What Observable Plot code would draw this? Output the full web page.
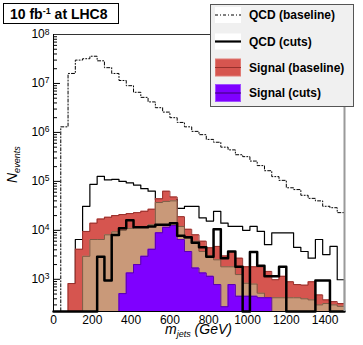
<!DOCTYPE html>
<html><head><meta charset="utf-8">
<script src="https://cdn.jsdelivr.net/npm/d3@7"></script>
<script src="https://cdn.jsdelivr.net/npm/@observablehq/plot@0.6"></script>
<style>
body{margin:0;background:#fff;}
#chart{width:363px;height:345px;}
svg text{font-family:"Liberation Sans", Arial, Helvetica, sans-serif;}
</style></head><body><div id="chart"></div>
<script>
// ---- data (events per 37.5 GeV bin, 0-1500 GeV) ----
const binWidth = 37.5;
const qcdBaseline = [0,1.3e6,1.6e7,3.0e7,3.2e7,3.6e7,2.9e7,2.1e7,1.6e7,1.15e7,9.0e6,6.6e6,5.2e6,4.2e6,3.2e6,2.6e6,2.0e6,1.6e6,1.3e6,1.05e6,9.0e5,7.2e5,6.3e5,5.0e5,4.4e5,3.5e5,3.2e5,2.6e5,2.1e5,1.65e5,1.25e5,1.05e5,7.4e4,6.8e4,5.2e4,4.5e4,4.0e4,3.1e4,2.9e4,2.3e4];
const qcdPresel = [0,0,0,6.5e3,3.1e4,8.7e4,1.26e5,1.07e5,1.1e5,1.0e5,9.3e4,8.4e4,7.1e4,6.3e4,4.3e4,4.3e4,4.3e4,2.8e4,3.1e4,3.1e4,1.8e4,1.55e4,2.45e4,1.4e4,1.2e4,1.2e4,1.0e4,1.2e4,9.5e3,5.1e3,8.9e3,8.9e3,8.9e3,4.5e3,3.7e3,2.7e3,6.5e3,3.2e3,4.7e3,980];
const qcdCuts = [0,0,0,0,0,0,2.9e3,950,8e3,1.1e4,1.6e4,1.15e4,1.15e4,1.2e4,1.3e4,1.3e4,1.4e4,7.8e3,7.2e3,5.6e3,4.5e3,2.9e3,1.05e4,2.7e3,3.7e3,1.8e3,0,3.6e3,1.9e3,1.15e3,1.15e3,1.8e3,0,0,0,0,950,950,0,0];
const signalBaseline = [0,0,820,4.1e3,9.5e3,1.4e4,1.7e4,1.85e4,2.0e4,2.1e4,2.2e4,2.3e4,2.45e4,2.7e4,4.4e4,6.3e4,4.8e4,1.9e4,1.05e4,8.1e3,6.0e3,4.4e3,4.7e3,3.0e3,3.7e3,2.7e3,1.8e3,1.8e3,1.8e3,1.45e3,980,1.15e3,890,780,760,890,480,380,350,320];
const signalPresel = [0,0,0,0,2.95e3,6.5e3,6.5e3,8.1e3,9.3e3,1.0e4,1.1e4,1.15e4,1.2e4,1.3e4,3.7e4,3.9e4,4.0e4,1.2e4,6.9e3,6.0e3,3.7e3,3.0e3,2.5e3,1.8e3,1.8e3,1.25e3,830,800,520,420,420,420,420,420,400,380,300,320,300,280];
const signalCuts = [0,0,0,0,0,0,0,0,0,510,1.35e3,2.0e3,2.95e3,4.1e3,8.9e3,1.15e4,1.25e4,6.5e3,3.7e3,1.7e3,1.35e3,1.15e3,780,275,780,450,450,450,420,420,0,0,0,0,0,0,0,0,0,0];
const xTicks = [0,200,400,600,800,1000,1200,1400];
const yMajorTicks = [1e3,1e4,1e5,1e6,1e7,1e8];
const legendLabels = ["QCD (baseline)","QCD (cuts)","Signal (baseline)","Signal (cuts)"];
const titleText = ["10 fb","-1"," at LHC8"];
const xLabel = ["m","jets"," (GeV)"];
const yLabel = ["N","events"];

// ---- layout / styles ----
const W = 363, H = 345, mL = 53, mR = 19, mT = 34, mB = 34;
const plotW = W - mL - mR;
const yMin = 220, yMax = 1e8, floorVal = 1;
const red = "#d6554f", redLine = "#96302c", tan = "#c99979", tanLine = "#7d5a45", purple = "#7f00ff", purpleLine = "#5a00b0";

const nBins = qcdBaseline.length;
const edges = d3.range(nBins + 1).map(i => i * binWidth);
function stepPoints(values) {
  const pts = [{x: edges[0], y: floorVal}];
  values.forEach((v, i) => {
    const y = v > 0 ? v : floorVal;
    pts.push({x: edges[i], y}, {x: edges[i + 1], y});
  });
  pts.push({x: edges[nBins], y: floorVal});
  return pts;
}
const yMinor = [];
for (let e = 2; e < 8; e++) for (let m = 2; m <= 9; m++) { const v = m * 10 ** e; if (v > yMin) yMinor.push(v); }

const filled = (vals, fill, stroke) => [
  Plot.areaY(stepPoints(vals), {x: "x", y1: () => floorVal, y2: "y", fill, curve: "linear"}),
  Plot.line(stepPoints(vals), {x: "x", y: "y", stroke, strokeWidth: 1, curve: "linear"})
];

const plot = Plot.plot({
  width: W, height: H, marginLeft: mL, marginRight: mR, marginTop: mT, marginBottom: mB,
  style: {fontFamily: "Liberation Sans, Arial, sans-serif", fontSize: "12px", background: "white", color: "black"},
  x: {domain: [0, 1500]},
  y: {type: "log", domain: [yMin, yMax], clamp: true},
  marks: [
    Plot.line(stepPoints(qcdBaseline), {x: "x", y: "y", stroke: "black", strokeWidth: 1, strokeDasharray: "3,2,1,2"}),
    Plot.line(stepPoints(qcdPresel), {x: "x", y: "y", stroke: "black", strokeWidth: 1.2}),
    ...filled(signalBaseline, red, redLine),
    ...filled(signalPresel, tan, tanLine),
    ...filled(signalCuts, purple, purpleLine),
    Plot.line(stepPoints(qcdCuts), {x: "x", y: "y", stroke: "black", strokeWidth: 2.5}),
    Plot.tickY(yMajorTicks, {y: d => d, insetRight: plotW - 7, stroke: "black"}),
    Plot.tickY(yMinor, {y: d => d, insetRight: plotW - 4, stroke: "black"}),
    Plot.ruleX([1500], {stroke: "#9a9a9a", strokeWidth: 2}),
    Plot.ruleY([yMax], {stroke: "#333"}),
    Plot.ruleX([0], {stroke: "black"}),
    Plot.ruleY([yMin], {stroke: "black"}),
    Plot.axisX({ticks: xTicks, tickSize: 0, tickPadding: 4, label: null, fontSize: 12, tickFormat: d => String(d)}),
    Plot.axisY({ticks: yMajorTicks, tickSize: 0, tickPadding: 4, label: null, fontSize: 12,
      tickFormat: d => "10^" + Math.round(Math.log10(d))})
  ]
});
document.getElementById("chart").appendChild(plot);

const ns = "http://www.w3.org/2000/svg";
plot.querySelectorAll('g[aria-label="y-axis tick label"] text').forEach(t => {
  const s = t.textContent;
  if (s.startsWith("10^")) {
    t.textContent = "10";
    const ts = document.createElementNS(ns, "tspan");
    ts.setAttribute("dy", "-0.45em");
    ts.setAttribute("font-size", "8.5");
    ts.textContent = s.slice(3);
    t.appendChild(ts);
  }
});

const svg = d3.select(plot);
const font = "Liberation Sans, Arial, sans-serif";

// axis titles
const xl = svg.append("text").attr("x", (mL + W - mR) / 2).attr("y", 333.5).attr("text-anchor", "middle")
  .attr("font-family", font).attr("font-style", "italic").attr("font-size", 14);
xl.append("tspan").text(xLabel[0]);
xl.append("tspan").attr("font-size", 9).attr("dy", 3).text(xLabel[1]);
xl.append("tspan").attr("dy", -3).text(xLabel[2]);

const yl = svg.append("text").attr("transform", "translate(17,183) rotate(-90)").attr("text-anchor", "start")
  .attr("font-family", font).attr("font-style", "italic").attr("font-size", 14);
yl.append("tspan").text(yLabel[0]);
yl.append("tspan").attr("font-size", 9).attr("dy", 3).text(yLabel[1]);

// title box
svg.append("rect").attr("x", 3.5).attr("y", 3.5).attr("width", 115).attr("height", 20)
  .attr("fill", "white").attr("stroke", "black");
const tt = svg.append("text").attr("x", 10).attr("y", 18.5).attr("text-anchor", "start").attr("font-family", font)
  .attr("font-weight", "bold").attr("font-size", 14);
tt.append("tspan").text(titleText[0]);
tt.append("tspan").attr("font-size", 9).attr("dy", -5).text(titleText[1]);
tt.append("tspan").attr("dy", 5).text(titleText[2]);

// legend
const lg = svg.append("g");
lg.append("rect").attr("x", 210.5).attr("y", 4.5).attr("width", 143).attr("height", 102)
  .attr("fill", "#f0f0f0").attr("stroke", "#555");
const rowY = [15, 41.5, 67.5, 93];
const sx = 215, sw = 26;
legendLabels.forEach((lab, i) => {
  const cy = rowY[i];
  if (i < 2) {
    lg.append("rect").attr("x", sx).attr("y", cy - 8).attr("width", sw).attr("height", 16).attr("fill", "white");
    lg.append("line").attr("x1", sx).attr("x2", sx + sw).attr("y1", cy).attr("y2", cy).attr("stroke", "black")
      .attr("stroke-width", i === 0 ? 1 : 2.2).attr("stroke-dasharray", i === 0 ? "3,2,1,2" : null);
  } else {
    const f = i === 2 ? red : purple, l = i === 2 ? redLine : "#3a0070";
    lg.append("rect").attr("x", sx + 0.5).attr("y", cy - 8.5).attr("width", sw - 1).attr("height", 17)
      .attr("fill", f).attr("stroke", i === 2 ? "#e07a74" : "#a050ff");
    lg.append("line").attr("x1", sx).attr("x2", sx + sw).attr("y1", cy).attr("y2", cy).attr("stroke", l);
  }
  lg.append("text").attr("x", 249).attr("y", cy + 4.3).attr("text-anchor", "start").attr("font-family", font)
    .attr("font-weight", "bold").attr("font-size", 12).attr("fill", "black").text(lab);
});
</script></body></html>
